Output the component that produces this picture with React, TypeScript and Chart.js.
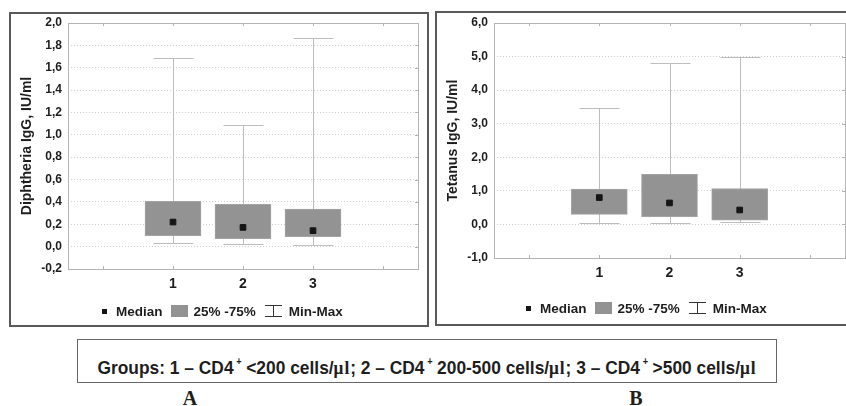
import React, { useEffect, useLayoutEffect, useRef } from "react";
import { Chart, registerables } from "chart.js";

Chart.register(...registerables);

// ---- data ----
const categories = [1, 2, 3];
const xTickValues = [0, 1, 2, 3, 4];
const xTickLabels = ["", "1", "2", "3", ""];

const diphMin = [0.033, 0.024, 0.015];
const diphQ1 = [0.098, 0.071, 0.089];
const diphMedian = [0.22, 0.172, 0.143];
const diphQ3 = [0.405, 0.378, 0.336];
const diphMax = [1.685, 1.09, 1.87];

const tetMin = [0.05, 0.05, 0.06];
const tetQ1 = [0.3, 0.23, 0.13];
const tetMedian = [0.8, 0.64, 0.43];
const tetQ3 = [1.05, 1.49, 1.07];
const tetMax = [3.46, 4.8, 4.98];

const legendLabels = ["Median", "25% -75%", "Min-Max"];
const footerGroups = ["1 – CD4", "<200 cells/", "; 2 – CD4", "200-500 cells/", "; 3 – CD4", ">500 cells/"];

const FONT = "'Liberation Sans', Arial, Helvetica, sans-serif";
const SERIF = "'Liberation Serif', 'Times New Roman', serif";

type BoxProps = {
  mins: number[]; q1: number[]; med: number[]; q3: number[]; maxs: number[];
  yMin: number; yMax: number; yStep: number; title: string;
  padTop: number; padRight: number; xHeight: number; xPad: number;
};

function BoxChart(p: BoxProps) {
  const ref = useRef<HTMLCanvasElement>(null);
  useEffect(() => {
    const framePlugin = {
      id: "frameWhiskers",
      beforeDatasetsDraw(chart: any) {
        const { ctx, chartArea: a, scales } = chart;
        const xs = scales.x;
        const ys = scales.y;
        ctx.save();
        ctx.strokeStyle = "#b4b4b4";
        ctx.lineWidth = 1;
        ctx.strokeRect(a.left + 0.5, a.top + 0.5, a.right - a.left, a.bottom - a.top);
        ctx.beginPath();
        xTickValues.forEach((v) => {
          const px = Math.round(xs.getPixelForValue(v)) + 0.5;
          ctx.moveTo(px, a.bottom); ctx.lineTo(px, a.bottom - 3);
          ctx.moveTo(px, a.top); ctx.lineTo(px, a.top + 3);
        });
        ys.ticks.forEach((t: any) => {
          const py = Math.round(ys.getPixelForValue(t.value)) + 0.5;
          ctx.moveTo(a.right, py); ctx.lineTo(a.right - 3, py);
        });
        ctx.stroke();
        // min-max whiskers
        ctx.strokeStyle = "#bdbdbd";
        ctx.beginPath();
        categories.forEach((c, i) => {
          const px = Math.round(xs.getPixelForValue(c)) + 0.5;
          const y0 = Math.round(ys.getPixelForValue(p.mins[i])) + 0.5;
          const y1 = Math.round(ys.getPixelForValue(p.maxs[i])) + 0.5;
          ctx.moveTo(px, y0); ctx.lineTo(px, y1);
          ctx.moveTo(px - 20, y0); ctx.lineTo(px + 20, y0);
          ctx.moveTo(px - 20, y1); ctx.lineTo(px + 20, y1);
        });
        ctx.stroke();
        ctx.restore();
      },
    };
    const chart = new Chart(ref.current!, {
      type: "bar",
      data: {
        datasets: [
          { type: "scatter", data: categories.map((c, i) => ({ x: c, y: p.med[i] })), pointStyle: "rect", pointRadius: 4,
            backgroundColor: "#151515", borderColor: "#151515", borderWidth: 1, order: 0 } as any,
          { type: "bar", data: categories.map((c, i) => ({ x: c, y: [p.q1[i], p.q3[i]] })), backgroundColor: "#939393",
            borderColor: "#a4a4a4", borderWidth: 1, borderSkipped: false, barThickness: 56, order: 1 } as any,
        ],
      },
      options: {
        animation: false, responsive: false, events: [],
        layout: { padding: { top: p.padTop, right: p.padRight, left: 0, bottom: 0 } },
        plugins: { legend: { display: false }, tooltip: { enabled: false } },
        scales: {
          x: {
            type: "linear", offset: false, min: -0.5, max: 4.5,
            afterBuildTicks: (s: any) => { s.ticks = xTickValues.map((v) => ({ value: v })); },
            afterFit: (s: any) => { s.height = p.xHeight; },
            grid: { display: false, drawTicks: false },
            border: { display: false },
            ticks: { padding: p.xPad, color: "#1e1e1e", font: { family: FONT, size: 14, weight: "bold" },
              callback: (v: any) => xTickLabels[xTickValues.indexOf(Number(v))] ?? "", maxRotation: 0, autoSkip: false },
          },
          y: {
            min: p.yMin, max: p.yMax,
            afterFit: (s: any) => { s.width = 57; },
            grid: { color: "#cfcfcf", lineWidth: 1, drawTicks: true, tickLength: 6, tickColor: "rgba(0,0,0,0)" },
            border: { display: false, dash: [1, 2] },
            ticks: { stepSize: p.yStep, padding: 0, color: "#1e1e1e", font: { family: FONT, size: 12, weight: "bold" },
              callback: (v: any) => Number(v).toFixed(1).replace(".", ",") },
            title: { display: true, text: p.title, color: "#1e1e1e", font: { family: FONT, size: 14, weight: "bold" }, padding: { top: 8, bottom: 0 } },
          },
        },
      } as any,
      plugins: [framePlugin],
    });
    return () => chart.destroy();
  }, []);
  return <canvas ref={ref} width={416} height={310} style={{ position: "absolute", left: 0, top: 0, width: 416, height: 310 }} />;
}

function Legend({ left, top }: { left: number; top: number }) {
  const txt: React.CSSProperties = { fontFamily: FONT, fontWeight: "bold", fontSize: 13.5, color: "#1e1e1e", whiteSpace: "nowrap" };
  return (
    <div style={{ position: "absolute", left, top, height: 14, display: "flex", alignItems: "center" }}>
      <div style={{ width: 5, height: 5, background: "#151515", marginRight: 9 }} />
      <span style={txt}>{legendLabels[0]}</span>
      <div style={{ width: 17, height: 12, background: "#939393", marginLeft: 8, marginRight: 6 }} />
      <span style={txt}>{legendLabels[1]}</span>
      <div style={{ position: "relative", width: 17, height: 12, marginLeft: 9, marginRight: 7 }}>
        <div style={{ position: "absolute", left: 0, top: 0, width: 17, height: 1, background: "#333" }} />
        <div style={{ position: "absolute", left: 8, top: 0, width: 1, height: 12, background: "#333" }} />
        <div style={{ position: "absolute", left: 0, top: 11, width: 17, height: 1, background: "#333" }} />
      </div>
      <span style={txt}>{legendLabels[2]}</span>
    </div>
  );
}

function FooterText() {
  const ref = useRef<HTMLSpanElement>(null);
  useLayoutEffect(() => {
    const el = ref.current!;
    const w = el.offsetWidth;
    if (w > 0) el.style.transform = `translateX(-50%) scaleX(${659 / w})`;
  }, []);
  const sup = <span style={{ fontSize: 10, position: "relative", top: -9, marginLeft: 3, marginRight: 5 }}>+</span>;
  const mu = <span style={{ fontFamily: SERIF, letterSpacing: 1 }}>μl</span>;
  return (
    <span ref={ref} style={{ position: "absolute", left: "50%", top: 0, display: "inline-block", transformOrigin: "center", fontFamily: FONT, fontWeight: "bold", fontSize: 19, color: "#1e1e1e", lineHeight: "20px", whiteSpace: "nowrap" }}>
      Groups: {footerGroups[0]}{sup}{footerGroups[1]}{mu}{footerGroups[2]}{sup}{footerGroups[3]}{mu}{footerGroups[4]}{sup}{footerGroups[5]}{mu}
    </span>
  );
}

export default function App() {
  return (
    <div style={{ position: "fixed", left: 0, top: 0, width: 846, height: 406, overflow: "hidden", background: "#fff" }}>
      <div style={{ position: "absolute", left: 9, top: 12, width: 416, height: 311, border: "2px solid #5a5a5a" }}>
        <BoxChart mins={diphMin} q1={diphQ1} med={diphMedian} q3={diphQ3} maxs={diphMax} yMin={-0.2} yMax={2.0} yStep={0.2}
          title="Diphtheria IgG, IU/ml" padTop={9} padRight={9} xHeight={55} xPad={7} />
        <Legend left={91} top={290} />
      </div>
      <div style={{ position: "absolute", left: 435, top: 11, width: 416, height: 311, border: "2px solid #5a5a5a" }}>
        <BoxChart mins={tetMin} q1={tetQ1} med={tetMedian} q3={tetQ3} maxs={tetMax} yMin={-1} yMax={6} yStep={1}
          title="Tetanus IgG, IU/ml" padTop={10} padRight={8} xHeight={65} xPad={7} />
        <Legend left={89} top={288} />
      </div>
      <div style={{ position: "absolute", left: 77, top: 339, width: 698, height: 42, border: "1.5px solid #666", boxSizing: "content-box" }}>
        <div style={{ position: "absolute", left: 0, right: 0, top: 18 }}>
          <FooterText />
        </div>
      </div>
      <div style={{ position: "absolute", left: 180, top: 387, width: 20, textAlign: "center", fontFamily: SERIF, fontWeight: "bold", fontSize: 20, color: "#1e1e1e" }}>A</div>
      <div style={{ position: "absolute", left: 626, top: 387, width: 20, textAlign: "center", fontFamily: SERIF, fontWeight: "bold", fontSize: 20, color: "#1e1e1e" }}>B</div>
    </div>
  );
}
